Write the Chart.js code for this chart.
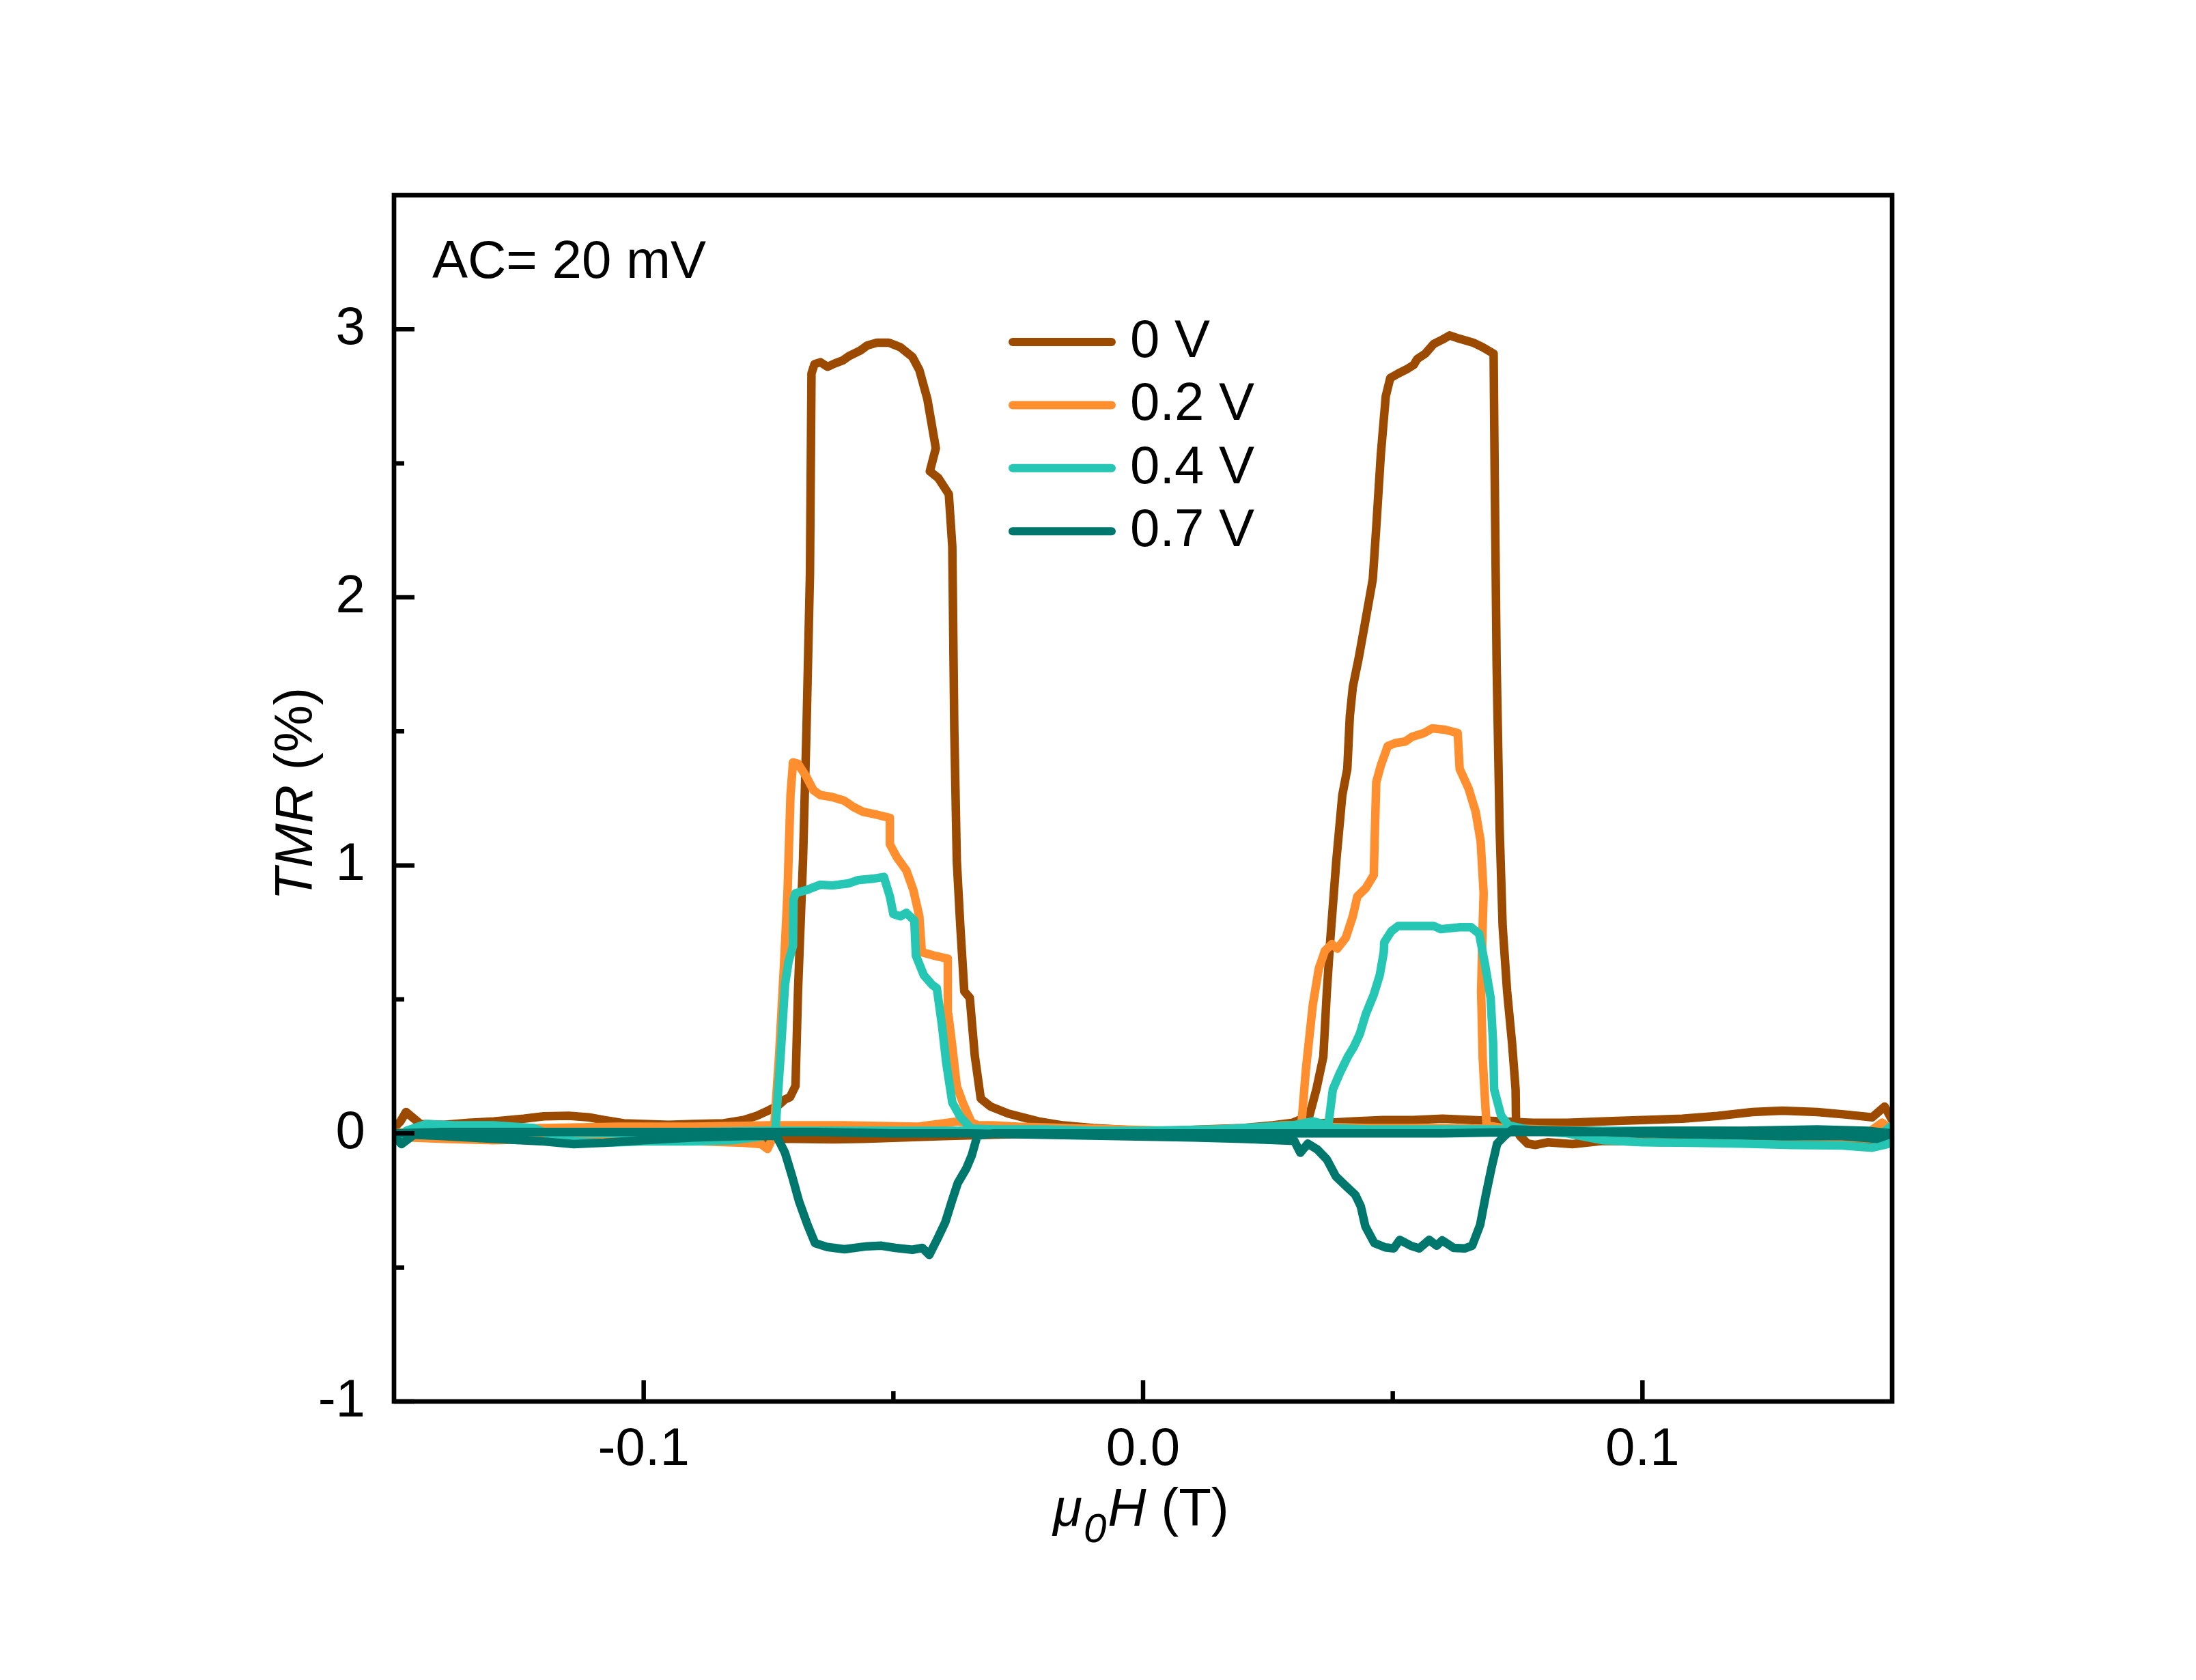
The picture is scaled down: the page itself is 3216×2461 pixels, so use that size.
<!DOCTYPE html>
<html>
<head>
<meta charset="utf-8">
<title>TMR vs field</title>
<script src="https://cdn.jsdelivr.net/npm/chart.js@4.4.1/dist/chart.umd.min.js"></script>
<style>
  html, body { margin: 0; padding: 0; background: #fff; }
  #wrap { width: 3216px; height: 2461px; }
</style>
</head>
<body>
<div id="wrap"><canvas id="tmrChart" width="3216" height="2461"></canvas></div>
<script>
// Bias labels and axis ticks
const biasLabels = ['0 V', '0.2 V', '0.4 V', '0.7 V'];
const xTicks = [-0.1, 0, 0.1];
const xMinor = [-0.05, 0.05];
const yTicks = [-1, 0, 1, 2, 3];
const yMinor = [-0.5, 0.5, 1.5, 2.5];

// 0 V : field (T) and TMR (%), sweep down then sweep up
const h0 = [
  0.150, 0.1485, 0.146, 0.141, 0.135, 0.128, 0.122, 0.115, 0.108, 0.100,
  0.092, 0.085, 0.078, 0.072, 0.066, 0.060, 0.054, 0.048, 0.042, 0.037,
  0.033, 0.028, 0.020, 0.012, 0.005, 0.000, -0.005, -0.010, -0.016, -0.021,
  -0.027, -0.0305, -0.0325, -0.0337, -0.0347, -0.0358, -0.0366, -0.0373, -0.0378, -0.0382,
  -0.0389, -0.0410, -0.0427, -0.0415, -0.0432, -0.0448, -0.0462, -0.0486, -0.0509, -0.0533,
  -0.0552, -0.0566, -0.0589, -0.0601, -0.0618, -0.0632, -0.0646, -0.0658, -0.0664, -0.0667,
  -0.0674, -0.0681, -0.0691, -0.0696, -0.0707, -0.0717, -0.0731, -0.0750, -0.0773, -0.080,
  -0.084, -0.090, -0.095, -0.100, -0.104, -0.108, -0.111, -0.115, -0.120, -0.124,
  -0.130, -0.135, -0.140, -0.1447, -0.1476, -0.1487, -0.150,
  -0.150, -0.145, -0.138, -0.130, -0.120, -0.110, -0.100, -0.090, -0.080, -0.070,
  -0.062, -0.056, -0.048, -0.040, -0.030, -0.020, -0.010, 0.000, 0.010, 0.020,
  0.026, 0.030, 0.0333, 0.0347, 0.0361, 0.0368, 0.0375, 0.0387, 0.0399, 0.0409,
  0.0414, 0.0420, 0.0432, 0.0446, 0.0460, 0.0467, 0.0476, 0.0486, 0.0495, 0.0511,
  0.0530, 0.0542, 0.0549, 0.0565, 0.0582, 0.0600, 0.0614, 0.0633, 0.0661, 0.0680,
  0.0702, 0.0704, 0.0708, 0.0714, 0.0720, 0.0729, 0.0739, 0.0746, 0.0747, 0.0755,
  0.0770, 0.0786, 0.0810, 0.0860, 0.0920, 0.0980, 0.1040, 0.1100, 0.1150, 0.1220,
  0.1320, 0.1380, 0.1430, 0.1500
];
const r0 = [
  0.05, 0.10, 0.06, 0.07, 0.08, 0.085, 0.08, 0.065, 0.055, 0.05,
  0.045, 0.04, 0.04, 0.045, 0.05, 0.055, 0.05, 0.05, 0.045, 0.04,
  0.035, 0.025, 0.02, 0.015, 0.01, 0.01, 0.015, 0.02, 0.03, 0.045,
  0.074, 0.10, 0.13, 0.29, 0.506, 0.53, 0.774, 1.018, 1.506, 2.189,
  2.385, 2.445, 2.47, 2.556, 2.74, 2.848, 2.897, 2.933, 2.95, 2.95,
  2.94, 2.921, 2.90, 2.884, 2.872, 2.86, 2.877, 2.87, 2.835, 2.09,
  1.506, 1.018, 0.53, 0.177, 0.135, 0.127, 0.104, 0.086, 0.066, 0.05,
  0.038, 0.035, 0.032, 0.035, 0.038, 0.05, 0.06, 0.066, 0.064, 0.055,
  0.045, 0.04, 0.032, 0.035, 0.08, 0.045, 0.02,
  0.0, -0.005, -0.005, -0.01, -0.01, -0.015, -0.015, -0.02, -0.02, -0.02,
  -0.022, -0.02, -0.015, -0.01, -0.005, 0.0, 0.0, 0.005, 0.01, 0.02,
  0.03, 0.04, 0.066, 0.164, 0.286, 0.53, 0.725, 1.018, 1.262, 1.36,
  1.555, 1.665, 1.775, 1.92, 2.067, 2.262, 2.53, 2.75, 2.818, 2.835,
  2.853, 2.867, 2.889, 2.909, 2.945, 2.962, 2.977, 2.965, 2.95, 2.933,
  2.909, 2.48, 1.75, 1.14, 0.774, 0.53, 0.335, 0.164, 0.018, -0.01,
  -0.038, -0.043, -0.033, -0.04, -0.028, -0.03, -0.033, -0.03, -0.028, -0.032,
  -0.038, -0.032, -0.028, -0.023
];

// 0.2 V
const h2 = [
  0.150, 0.148, 0.145, 0.135, 0.120, 0.105, 0.090, 0.075, 0.060, 0.045,
  0.035, 0.025, 0.015, 0.005, -0.005, -0.015, -0.025, -0.030, -0.0330, -0.0344,
  -0.0361, -0.0373, -0.0382, -0.0390, -0.0391, -0.0420, -0.0443, -0.0448, -0.0460, -0.0474,
  -0.0493, -0.0507, -0.0507, -0.0533, -0.0561, -0.0580, -0.0599, -0.0623, -0.0646, -0.0660,
  -0.0674, -0.0691, -0.0701, -0.0706, -0.0712, -0.0719, -0.0729, -0.0738, -0.0745, -0.0752,
  -0.0765, -0.080, -0.088, -0.098, -0.110, -0.120, -0.130, -0.140, -0.147, -0.150,
  -0.150, -0.145, -0.135, -0.120, -0.105, -0.090, -0.075, -0.060, -0.045, -0.037,
  -0.033, -0.020, -0.010, 0.000, 0.010, 0.020, 0.028, 0.0317, 0.0326, 0.0340,
  0.0352, 0.0364, 0.0378, 0.0389, 0.0406, 0.0420, 0.0429, 0.0446, 0.0462, 0.0464,
  0.0467, 0.0476, 0.0490, 0.0507, 0.0525, 0.0539, 0.0563, 0.0579, 0.0605, 0.0630,
  0.0634, 0.0652, 0.0666, 0.0676, 0.0682, 0.0680, 0.0677, 0.0680, 0.0685, 0.0688,
  0.072, 0.080, 0.090, 0.100, 0.110, 0.120, 0.130, 0.140, 0.147, 0.150
];
const r2 = [
  0.01, 0.04, 0.0, -0.01, -0.005, 0.0, 0.01, 0.015, 0.02, 0.02,
  0.025, 0.02, 0.015, 0.01, 0.015, 0.02, 0.025, 0.03, 0.03, 0.042,
  0.115, 0.176, 0.323, 0.445, 0.652, 0.664, 0.676, 0.81, 0.908, 0.981,
  1.03, 1.079, 1.177, 1.189, 1.20, 1.218, 1.242, 1.255, 1.262, 1.28,
  1.33, 1.379, 1.384, 1.262, 0.896, 0.628, 0.286, 0.042, -0.03, -0.058,
  -0.04, -0.035, -0.03, -0.025, -0.025, -0.02, -0.025, -0.02, -0.015, 0.0,
  0.0, 0.01, 0.015, 0.02, 0.025, 0.025, 0.03, 0.03, 0.025, 0.045,
  0.03, 0.02, 0.015, 0.01, 0.01, 0.015, 0.03, 0.03, 0.237, 0.481,
  0.615, 0.681, 0.706, 0.689, 0.73, 0.81, 0.884, 0.915, 0.964, 1.116,
  1.311, 1.372, 1.445, 1.457, 1.462, 1.48, 1.494, 1.511, 1.506, 1.494,
  1.36, 1.286, 1.20, 1.09, 0.896, 0.774, 0.53, 0.286, 0.115, 0.03,
  0.02, 0.015, 0.01, 0.005, 0.0, -0.005, -0.01, -0.015, -0.02, 0.01
];

// 0.4 V
const h4 = [
  0.150, 0.148, 0.140, 0.130, 0.115, 0.100, 0.085, 0.070, 0.055, 0.045,
  0.038, 0.034, 0.030, 0.020, 0.010, 0.000, -0.010, -0.020, -0.030, -0.0344,
  -0.0366, -0.0382, -0.0394, -0.0403, -0.0413, -0.0422, -0.0439, -0.0455, -0.0458, -0.0474,
  -0.0486, -0.0500, -0.0507, -0.0519, -0.0542, -0.0571, -0.0589, -0.0623, -0.0646, -0.0674,
  -0.0696, -0.0700, -0.0701, -0.0710, -0.0717, -0.0726, -0.0736, -0.076, -0.082, -0.090,
  -0.100, -0.108, -0.114, -0.118, -0.122, -0.130, -0.138, -0.1436, -0.1475, -0.1485,
  -0.150,
  -0.150, -0.145, -0.135, -0.120, -0.105, -0.090, -0.075, -0.060, -0.045, -0.030,
  -0.015, 0.000, 0.015, 0.025, 0.030, 0.034, 0.0371, 0.0380, 0.0394, 0.0410,
  0.0422, 0.0434, 0.0446, 0.0462, 0.0474, 0.0482, 0.0483, 0.0497, 0.0511, 0.0549,
  0.0582, 0.0596, 0.0633, 0.0657, 0.0673, 0.0685, 0.0696, 0.0701, 0.0703, 0.0717,
  0.0732, 0.078, 0.085, 0.092, 0.100, 0.110, 0.120, 0.130, 0.140, 0.146,
  0.149, 0.150
];
const r4 = [
  0.03, 0.0, 0.005, 0.005, 0.01, 0.01, 0.01, 0.015, 0.015, 0.015,
  0.02, 0.03, 0.03, 0.02, 0.01, 0.005, 0.01, 0.015, 0.015, 0.018,
  0.062, 0.115, 0.262, 0.408, 0.542, 0.554, 0.59, 0.664, 0.794, 0.823,
  0.81, 0.818, 0.884, 0.957, 0.95, 0.945, 0.933, 0.925, 0.928, 0.908,
  0.896, 0.872, 0.70, 0.64, 0.555, 0.286, 0.018, -0.01, -0.025, -0.03,
  -0.03, -0.035, -0.03, -0.01, 0.02, 0.03, 0.03, 0.035, 0.01, -0.03,
  -0.01,
  -0.01, 0.0, 0.005, 0.005, 0.0, 0.005, 0.01, 0.01, 0.01, 0.01,
  0.01, 0.01, 0.015, 0.02, 0.03, 0.045, 0.03, 0.164, 0.225, 0.286,
  0.323, 0.371, 0.445, 0.518, 0.591, 0.676, 0.713, 0.754, 0.774, 0.774,
  0.774, 0.762, 0.769, 0.769, 0.745, 0.628, 0.505, 0.335, 0.164, 0.066,
  0.03, 0.01, 0.0, -0.025, -0.033, -0.035, -0.038, -0.043, -0.045, -0.053,
  -0.04, 0.03
];

// 0.7 V
const h7 = [
  0.150, 0.145, 0.135, 0.120, 0.105, 0.090, 0.075, 0.060, 0.045, 0.035,
  0.020, 0.000, -0.015, -0.030, -0.0332, -0.0343, -0.0354, -0.0371, -0.0383, -0.0396,
  -0.0411, -0.0428, -0.0442, -0.0462, -0.0496, -0.0524, -0.0553, -0.0598, -0.0632, -0.0657,
  -0.0672, -0.0689, -0.0702, -0.0717, -0.0734, -0.080, -0.090, -0.100, -0.108, -0.114,
  -0.120, -0.130, -0.140, -0.146, -0.1485, -0.150,
  -0.150, -0.140, -0.125, -0.110, -0.095, -0.080, -0.065, -0.050, -0.035, -0.020,
  -0.005, 0.010, 0.020, 0.027, 0.0303, 0.0315, 0.0330, 0.0349, 0.0368, 0.0386,
  0.0406, 0.0425, 0.0436, 0.0445, 0.0463, 0.0485, 0.0502, 0.0514, 0.0536, 0.0553,
  0.0573, 0.0588, 0.0599, 0.0622, 0.0644, 0.0659, 0.0675, 0.0686, 0.0698, 0.0709,
  0.0724, 0.0740, 0.085, 0.100, 0.115, 0.130, 0.140, 0.147, 0.150
];
const r7 = [
  0.0, 0.01, 0.015, 0.01, 0.01, 0.005, 0.005, 0.0, 0.0, 0.0,
  0.0, 0.0, 0.0, 0.0, -0.009, -0.082, -0.131, -0.185, -0.253, -0.331,
  -0.39, -0.453, -0.427, -0.434, -0.427, -0.419, -0.421, -0.432, -0.424, -0.409,
  -0.341, -0.253, -0.165, -0.072, -0.009, -0.01, -0.015, -0.025, -0.035, -0.04,
  -0.03, -0.02, -0.01, -0.005, -0.04, -0.01,
  0.0, 0.005, 0.005, 0.005, 0.005, 0.005, 0.005, 0.0, 0.0, -0.005,
  -0.01, -0.015, -0.02, -0.025, -0.028, -0.072, -0.038, -0.06, -0.097, -0.16,
  -0.196, -0.229, -0.272, -0.346, -0.409, -0.425, -0.429, -0.397, -0.419, -0.429,
  -0.397, -0.419, -0.399, -0.427, -0.429, -0.419, -0.341, -0.233, -0.126, -0.038,
  -0.009, 0.015, 0.01, 0.0, -0.005, -0.01, -0.01, -0.02, 0.0
];

const FONT = '"Liberation Sans", Arial, Helvetica, sans-serif';
const FONT_SIZE = 78;

function toPoints(h, r) {
  if (h.length !== r.length) console.error('length mismatch', h.length, r.length);
  return h.map((x, i) => ({ x: x, y: r[i] }));
}

const series = [
  { label: biasLabels[0], h: h0, r: r0, color: '#9B4A00' },
  { label: biasLabels[1], h: h2, r: r2, color: '#FF8F2E' },
  { label: biasLabels[2], h: h4, r: r4, color: '#26C6B4' },
  { label: biasLabels[3], h: h7, r: r7, color: '#00776D' }
];

const datasets = series.map((s, i) => ({
  label: s.label,
  data: toPoints(s.h, s.r),
  borderColor: s.color,
  backgroundColor: s.color,
  borderWidth: 12.5,
  borderCapStyle: 'round',
  borderJoinStyle: 'round',
  pointRadius: 0,
  showLine: true,
  fill: false,
  tension: 0,
  order: series.length - i   // later series drawn on top
}));

// frame, inward ticks, legend and the text labels
const decorPlugin = {
  id: 'decor',
  afterDraw(chart) {
    const ctx = chart.ctx;
    const a = chart.chartArea;
    const xs = chart.scales.x;
    const ys = chart.scales.y;
    ctx.save();

    // ticks
    ctx.strokeStyle = '#000';
    ctx.lineWidth = 6.5;
    ctx.lineCap = 'butt';
    ctx.beginPath();
    xTicks.forEach(v => {
      const px = xs.getPixelForValue(v);
      ctx.moveTo(px, a.bottom); ctx.lineTo(px, a.bottom - 31);
    });
    xMinor.forEach(v => {
      const px = xs.getPixelForValue(v);
      ctx.moveTo(px, a.bottom); ctx.lineTo(px, a.bottom - 15);
    });
    yTicks.forEach(v => {
      const py = ys.getPixelForValue(v);
      ctx.moveTo(a.left, py); ctx.lineTo(a.left + 30, py);
    });
    yMinor.forEach(v => {
      const py = ys.getPixelForValue(v);
      ctx.moveTo(a.left, py); ctx.lineTo(a.left + 15, py);
    });
    ctx.stroke();

    // box
    ctx.lineWidth = 6.7;
    ctx.strokeRect(a.left, a.top, a.right - a.left, a.bottom - a.top);

    // legend
    ctx.lineCap = 'round';
    ctx.lineWidth = 12;
    ctx.font = FONT_SIZE + 'px ' + FONT;
    ctx.fillStyle = '#000';
    ctx.textBaseline = 'alphabetic';
    ctx.textAlign = 'left';
    series.forEach((s, i) => {
      const ly = 501 + i * 92.4;
      ctx.strokeStyle = s.color;
      ctx.beginPath();
      ctx.moveTo(1483, ly); ctx.lineTo(1628, ly);
      ctx.stroke();
      ctx.fillText(s.label, 1655, ly + 22);
    });

    // annotation
    ctx.fillText('AC= 20 mV', 633, 407);

    // x title: mu_0 H (T)
    const italic = 'italic ' + FONT_SIZE + 'px ' + FONT;
    const normal = FONT_SIZE + 'px ' + FONT;
    const sub = 'italic 60px ' + FONT;
    ctx.font = italic; const wMu = ctx.measureText('\u03bc').width;
    ctx.font = sub; const wSub = ctx.measureText('0').width;
    ctx.font = italic; const wH = ctx.measureText('H').width;
    ctx.font = normal; const wT = ctx.measureText(' (T)').width;
    let tx = 1671 - (wMu + wSub + wH + wT + 4) / 2;
    const tb = 2235;
    ctx.font = italic; ctx.fillText('\u03bc', tx, tb); tx += wMu + 2;
    ctx.font = sub; ctx.fillText('0', tx, tb + 24); tx += wSub + 2;
    ctx.font = italic; ctx.fillText('H', tx, tb); tx += wH;
    ctx.font = normal; ctx.fillText(' (T)', tx, tb);

    // y title: TMR (%)
    ctx.translate(457, 1163);
    ctx.rotate(-Math.PI / 2);
    ctx.font = italic; const wTMR = ctx.measureText('TMR').width;
    ctx.font = normal; const wPct = ctx.measureText(' (%)').width;
    let yx = -(wTMR + wPct) / 2;
    ctx.font = italic; ctx.fillText('TMR', yx, 0); yx += wTMR;
    ctx.font = normal; ctx.fillText(' (%)', yx, 0);

    ctx.restore();
  }
};

new Chart(document.getElementById('tmrChart'), {
  type: 'scatter',
  data: { datasets: datasets },
  options: {
    responsive: false,
    devicePixelRatio: 1,
    animation: false,
    layout: { padding: { left: 0, right: 445, top: 286, bottom: 0 } },
    plugins: {
      legend: { display: false },
      tooltip: { enabled: false },
      title: { display: false }
    },
    scales: {
      x: {
        type: 'linear',
        min: -0.15,
        max: 0.15,
        grid: { display: false, drawTicks: false },
        border: { display: false },
        ticks: {
          color: '#000',
          font: { family: FONT, size: FONT_SIZE },
          padding: 25,
          maxRotation: 0,
          callback: v => v.toFixed(1)
        },
        afterBuildTicks: s => { s.ticks = xTicks.map(v => ({ value: v })); },
        afterFit: s => { s.height = 408; }
      },
      y: {
        type: 'linear',
        min: -1,
        max: 3.5,
        grid: { display: false, drawTicks: false },
        border: { display: false },
        ticks: {
          color: '#000',
          font: { family: FONT, size: FONT_SIZE },
          padding: 42,
          callback: v => String(v)
        },
        afterBuildTicks: s => { s.ticks = yTicks.map(v => ({ value: v })); },
        afterFit: s => { s.width = 577; }
      }
    }
  },
  plugins: [decorPlugin]
});
</script>
</body>
</html>
